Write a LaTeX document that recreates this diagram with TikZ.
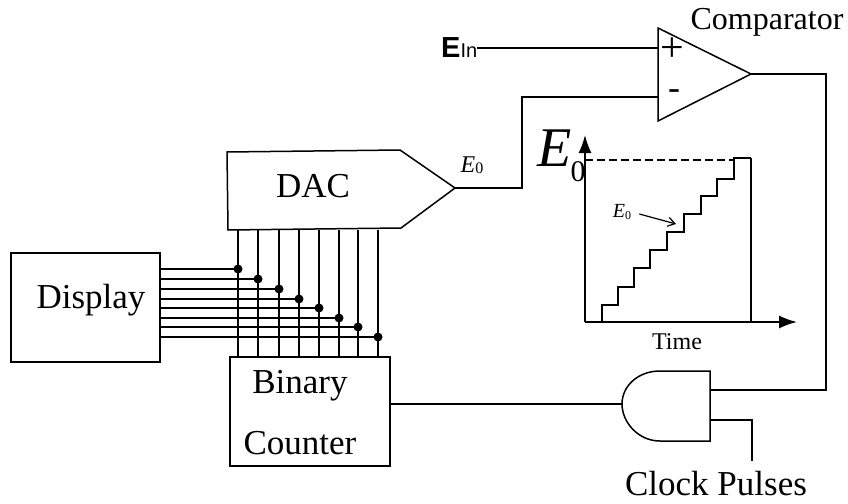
\documentclass[tikz,border=0pt]{standalone}
\usepackage{fontspec}
\setmainfont{Liberation Serif}
\setsansfont{Liberation Sans}
\usetikzlibrary{arrows.meta}
\newcommand{\fs}[1]{\fontsize{#1}{#1}\selectfont}
\newcommand{\ezero}[2]{{\fs{#1}\itshape E}\raisebox{-.3ex}{\fs{#2}\upshape 0}}
\tikzset{
  wire/.style={line width=1.4pt,line join=miter},
  blockbox/.style={draw,line width=1.5pt,rectangle,inner sep=0pt,outer sep=0pt},
  gate/.style={draw,line width=1.5pt,line join=miter},
  label35/.style={inner sep=0pt,font=\fs{35}},
  junction/.style={circle,fill=black,inner sep=0pt,minimum size=9pt},
  stairline/.style={line width=2.4pt,line join=miter},
  axisline/.style={line width=1.7pt},
  axistip/.style={-{Latex[length=18pt,width=13pt]}},
}
\begin{document}
\begin{tikzpicture}[x=1pt,y=-1pt]
\useasboundingbox (0,0) rectangle (848,503);
% blocks
\node[blockbox,minimum width=149pt,minimum height=109pt] (disp) at (85.5,307.5) {};
\node[label35] (disptxt) at (91,300) {Display};
\node[blockbox,minimum width=160pt,minimum height=109pt] (cnt) at (310,411.5) {};
\node[label35] (cnt1) at (300,386) {Binary};
\node[label35] (cnt2) at (300,443) {Counter};
% DAC
\coordinate (dacnw) at (227,152);
\coordinate (dacne) at (400,150);
\coordinate (dactip) at (455,188);
\coordinate (dacse) at (401,228);
\coordinate (dacsw) at (228,230);
\draw[gate] (dacnw) -- (dacne) -- (dactip) -- (dacse) -- (dacsw) -- cycle;
\node[label35] (dactxt) at (313,186) {DAC};
% junctions
\foreach \n/\x/\y in {1/238/269,2/258/279,3/279/289,4/299/299,5/319/308,6/339/318,7/358/327,8/378/337}{
  \node[junction] (d\n) at (\x,\y) {};
  \draw[wire] (d\n.center) -- (d\n.center -| disp.east);
  \draw[wire] (d\n.center |- dacsw) -- (d\n.center |- cnt.north);
}
% comparator
\coordinate (cmpa) at (658,28);
\coordinate (cmptip) at (751,74);
\coordinate (cmpb) at (658,121);
\coordinate (cmpplus) at (658,48);
\coordinate (cmpminus) at (658,97);
\draw[gate] (cmpa) -- (cmptip) -- (cmpb) -- cycle;
\node[inner sep=0pt,font=\fs{42}] (plus) at (672,50) {+};
\node[inner sep=0pt,font=\fs{36}] (minus) at (674,95) {-};
\node[inner sep=0pt,font=\fs{32}] (cmpname) at (767,22) {Comparator};
\node[inner sep=0pt,anchor=base west] (ein) at (441,58) {{\fs{29}\sffamily\bfseries E}{\fs{20}\sffamily In}};
\draw[wire] (ein.east |- cmpplus) -- (cmpplus);
\coordinate (bend1) at (522,188);
\draw[wire] (dactip) -- (bend1) -- (bend1 |- cmpminus) -- (cmpminus);
\node[inner sep=0pt] (e0out) at (472,165) {\ezero{24}{16}};
% AND gate
\coordinate (andne) at (710,371);
\coordinate (andse) at (710,441);
\coordinate (andw) at (622,404);
\coordinate (andin1) at (710,390);
\coordinate (andin2) at (710,420);
\draw[gate] (andne) -- (660,371) .. controls (638,371) and (622,386) .. (andw) .. controls (622,422) and (638,441) .. (660,441) -- (andse) -- cycle;
\coordinate (outturn) at (826,74);
\draw[wire] (cmptip) -- (outturn) -- (outturn |- andin1) -- (andin1);
\draw[wire] (cnt.east |- andw) -- (andw);
\coordinate (clkend) at (752,461);
\draw[wire] (andin2) -- (clkend |- andin2) -- (clkend);
\node[label35] (clk) at (716,484) {Clock Pulses};
% graph
\coordinate (org) at (585,322);
\coordinate (ytip) at (585,135);
\coordinate (xtip) at (797,322);
\draw[axisline,axistip] (org) -- (ytip);
\draw[axisline,axistip] (org) -- (xtip);
\coordinate (top) at (751,158);
\draw[axisline] (top) -- (top |- org);
\draw[wire,dash pattern=on 8pt off 4pt] (585,160) -- (734,160);
\draw[stairline] (602,322) |- (618,305) |- (634,287) |- (650,268) |- (667,250) |- (684,232) |- (701,214) |- (717,196) |- (734,179) |- (top);
\node[inner sep=0pt] (eb) at (555,148) {\fs{56}\itshape E};
\node[inner sep=0pt] (ebz) at (578,172) {\fs{30}0};
\node[inner sep=0pt] (e0g) at (622,212) {\ezero{20}{12}};
\coordinate (e0arrow) at (676,224);
\draw[line width=1.2pt,-{Straight Barb[length=7pt,width=9pt]}] (e0g.east) ++(8,2) -- (e0arrow);
\node[inner sep=0pt,font=\fs{24}] (timetxt) at (677,342) {Time};
\end{tikzpicture}
\end{document}
